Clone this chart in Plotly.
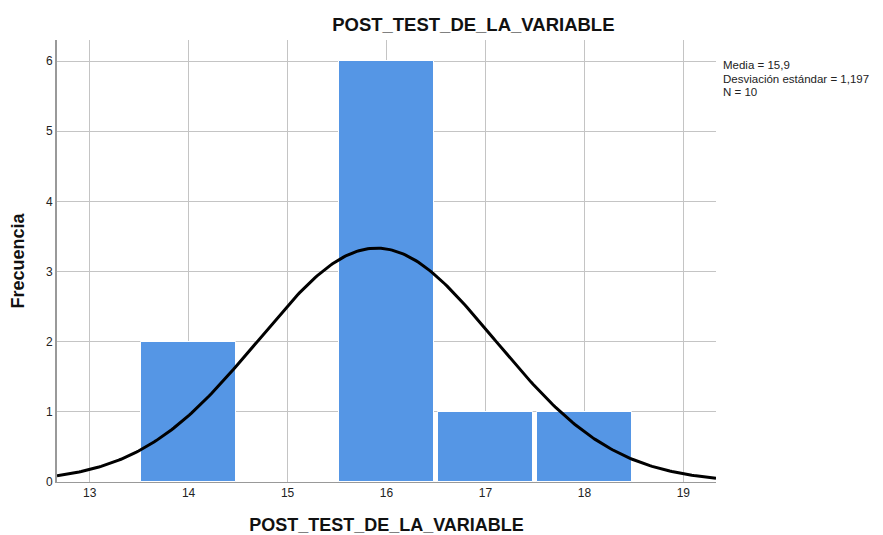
import numpy as np
import plotly.graph_objects as go

# histogram bins (value -> frequency)
valores = [14, 16, 17, 18]
frecuencias = [2, 6, 1, 1]

# summary stats shown in the chart
media = 15.9
desv = 1.197
n = 10
stats_lines = ["Media = 15,9", "Desviación estándar = 1,197", "N = 10"]

x_ticks = [13, 14, 15, 16, 17, 18, 19]
y_ticks = [0, 1, 2, 3, 4, 5, 6]

# fitted normal curve (scaled to counts, bin width 1)
xs = np.linspace(12.67, 19.33, 300)
ys = n * 1.0 / (desv * np.sqrt(2 * np.pi)) * np.exp(-0.5 * ((xs - media) / desv) ** 2)

fig = go.Figure()

fig.add_trace(
    go.Bar(
        x=valores,
        y=frecuencias,
        width=0.96,
        marker=dict(color="#5596e5", line=dict(color="white", width=1)),
        showlegend=False,
        hoverinfo="skip",
    )
)

fig.add_trace(
    go.Scatter(
        x=xs,
        y=ys,
        mode="lines",
        line=dict(color="black", width=3),
        showlegend=False,
        hoverinfo="skip",
    )
)

# SPSS-style stats box, tight line spacing
for i, line in enumerate(stats_lines):
    fig.add_annotation(
        text=line,
        xref="paper", yref="paper",
        x=1.008, y=0.943 - i * 0.0305,
        xanchor="left", yanchor="middle",
        align="left",
        showarrow=False,
        font=dict(size=11.5, color="#222222"),
    )

fig.update_layout(
    width=883,
    height=527,
    margin=dict(l=49, r=175, t=32, b=53),
    paper_bgcolor="white",
    plot_bgcolor="white",
    font=dict(family="Liberation Sans, Arial, sans-serif", size=12, color="#222222"),
    title=dict(
        text="<b>POST_TEST_DE_LA_VARIABLE</b>",
        x=0.527, xanchor="center",
        y=0.969, yanchor="middle",
        font=dict(size=18.5, color="#111111"),
    ),
    bargap=0,
    xaxis=dict(
        range=[12.67, 19.33],
        tickvals=x_ticks,
        showgrid=True,
        gridcolor="#c4c4c4",
        gridwidth=1,
        zeroline=False,
        showline=True,
        linecolor="#999999",
        linewidth=1,
        ticks="",
        automargin=False,
        title=dict(text="<b>POST_TEST_DE_LA_VARIABLE</b>", font=dict(size=18, color="#111111"), standoff=20),
    ),
    yaxis=dict(
        range=[0, 6.3],
        tickvals=y_ticks,
        showgrid=True,
        gridcolor="#c4c4c4",
        gridwidth=1,
        zeroline=False,
        showline=True,
        linecolor="#999999",
        linewidth=2,
        ticks="",
        automargin=False,
        title=dict(text="<b>Frecuencia</b>", font=dict(size=18, color="#111111"), standoff=18),
    ),
)

fig.write_html("out.html")
